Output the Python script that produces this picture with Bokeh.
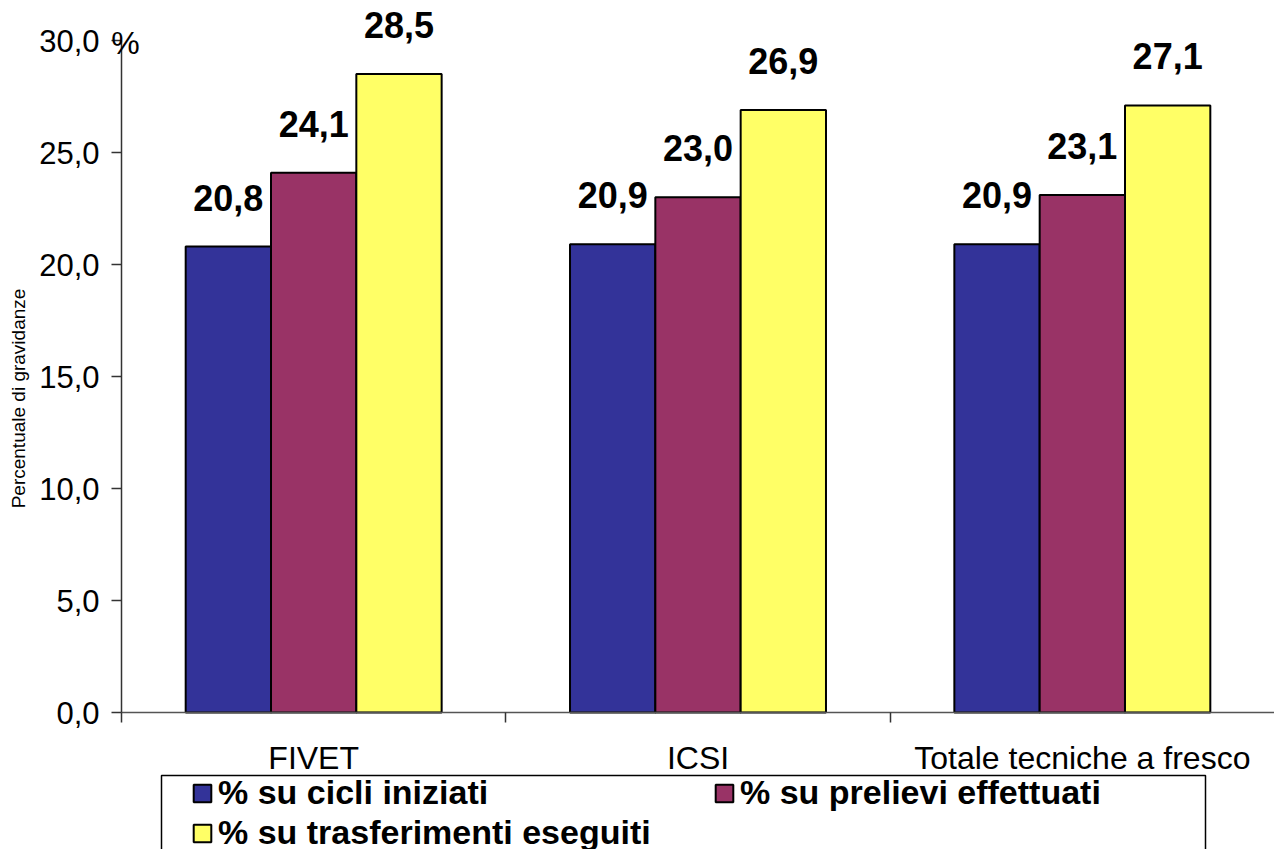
import math
from bokeh.plotting import figure
from bokeh.models import (Range1d, LinearAxis, FixedTicker,
                          Legend, LegendItem, LabelSet, Label, ColumnDataSource, BoxAnnotation)
from bokeh.transform import dodge
from bokeh.core.properties import value
from bokeh.embed import file_html
from bokeh.resources import INLINE

# ---- data ----
categories = ["FIVET", "ICSI", "Totale tecniche a fresco"]
series_names = ["% su cicli iniziati", "% su prelievi effettuati", "% su trasferimenti eseguiti"]
cicli = [20.8, 20.9, 20.9]
prelievi = [24.1, 23.0, 23.1]
trasferimenti = [28.5, 26.9, 27.1]
y_ticks = [0, 5, 10, 15, 20, 25, 30]
y_tick_labels = ["0,0", "5,0", "10,0", "15,0", "20,0", "25,0", "30,0"]
y_title = "Percentuale di gravidanze"
unit_label = "%"

colors = ["#333399", "#993366", "#FFFF66"]
FONT = "Liberation Sans"

# ---- layout (pixels) ----
CW, CH = 1274, 849           # canvas
X0, Y0, Y30 = 121, 712, 40    # axis origin and top of value axis
n_cat = len(categories)
px_per_cat = (CW - X0) / n_cat
px_per_unit = (Y0 - Y30) / 30.0


def fmt(v):
    return f"{v:.1f}".replace(".", ",")


centers = [i + 0.5 for i in range(n_cat)]
bounds_ticks = list(range(n_cat))

source = ColumnDataSource(dict(
    xc=centers,
    cicli=cicli, prelievi=prelievi, trasferimenti=trasferimenti,
    l_cicli=[fmt(v) for v in cicli],
    l_prelievi=[fmt(v) for v in prelievi],
    l_trasferimenti=[fmt(v) for v in trasferimenti],
))

# frame covers the whole canvas; axes sit at fixed locations inside it
x_lo = -X0 / px_per_cat
y_lo = -(CH - Y0) / px_per_unit
y_hi = 30 + Y30 / px_per_unit

p = figure(x_range=Range1d(x_lo, n_cat), y_range=Range1d(y_lo, y_hi),
           width=CW, height=CH, output_backend="svg", toolbar_location=None,
           x_axis_location=None, y_axis_location=None,
           min_border_left=0, min_border_right=0, min_border_top=0, min_border_bottom=0)
p.outline_line_color = None
p.grid.visible = False
p.background_fill_color = "white"
p.border_fill_color = "white"

# y axis
ya = LinearAxis(ticker=FixedTicker(ticks=y_ticks), fixed_location=0, bounds=(0, 30),
                major_label_overrides={t: l for t, l in zip(y_ticks, y_tick_labels)},
                major_tick_in=0, major_tick_out=10, minor_tick_line_color=None,
                axis_line_color="#333333", major_tick_line_color="#333333",
                axis_line_width=1.5, major_tick_line_width=1.5,
                major_label_standoff=12, major_label_text_font=FONT,
                major_label_text_font_size="31px", major_label_text_color="black")
p.add_layout(ya, "left")

# x axis: boundary ticks (no labels)
xt = LinearAxis(ticker=FixedTicker(ticks=bounds_ticks), fixed_location=0, bounds=(0, n_cat),
                major_label_overrides={t: "" for t in bounds_ticks},
                major_tick_in=0, major_tick_out=10, minor_tick_line_color=None,
                axis_line_color="#555555", major_tick_line_color="#333333",
                axis_line_width=1.5, major_tick_line_width=1.5,
                major_label_standoff=0)
p.add_layout(xt, "below")

# x axis: category labels
xl = LinearAxis(ticker=FixedTicker(ticks=centers), fixed_location=0, bounds=(0, n_cat),
                major_label_overrides={c: n for c, n in zip(centers, categories)},
                axis_line_color=None, major_tick_line_color=None, minor_tick_line_color=None,
                major_tick_in=0, major_tick_out=0, major_label_standoff=27,
                major_label_text_font=FONT, major_label_text_font_size="32px",
                major_label_text_color="black")
p.add_layout(xl, "below")

W = 0.222
fields = ["cicli", "prelievi", "trasferimenti"]
offsets = [-W, 0.0, W]
renderers = []
for f, off, c in zip(fields, offsets, colors):
    r = p.vbar(x=dodge("xc", off), top=f, width=W, bottom=0,
               fill_color=c, line_color="black", line_width=2, source=source)
    renderers.append(r)
    ls = LabelSet(x=dodge("xc", off), y=f, text="l_" + f, source=source,
                  text_align="center", text_baseline="alphabetic", y_offset=36,
                  text_font=value(FONT), text_font_style="bold", text_font_size="36px",
                  text_color="black")
    p.add_layout(ls)

# y title and unit
p.add_layout(Label(x=(18 - X0) / px_per_cat, y=(Y0 - 398) / px_per_unit, text=y_title,
                   angle=math.pi / 2, text_align="center", text_baseline="middle",
                   text_font=FONT, text_font_size="19px", text_color="black"))
p.add_layout(Label(x=(125 - X0) / px_per_cat, y=(Y0 - 42) / px_per_unit, text=unit_label,
                   text_align="center", text_baseline="middle",
                   text_font=FONT, text_font_size="32px", text_color="black"))

legend = Legend(items=[LegendItem(label=n, renderers=[r]) for n, r in zip(series_names, renderers)],
                orientation="horizontal", ncols=2, location=(191, -3),
                glyph_width=22, glyph_height=22, label_standoff=5, label_width=494,
                spacing=1, padding=0, margin=0, border_line_color=None,
                background_fill_alpha=0,
                label_text_font=FONT, label_text_font_style="bold", label_text_font_size="34px",
                label_text_color="black")
p.add_layout(legend, "center")

box = BoxAnnotation(left=(161 - X0) / px_per_cat, right=(1205 - X0) / px_per_cat,
                    top=(Y0 - 775) / px_per_unit, bottom=y_lo - 1,
                    fill_alpha=0, line_color="black", line_width=1.5, line_alpha=1)
p.add_layout(box)

open("out.html", "w").write(file_html(p, INLINE))
